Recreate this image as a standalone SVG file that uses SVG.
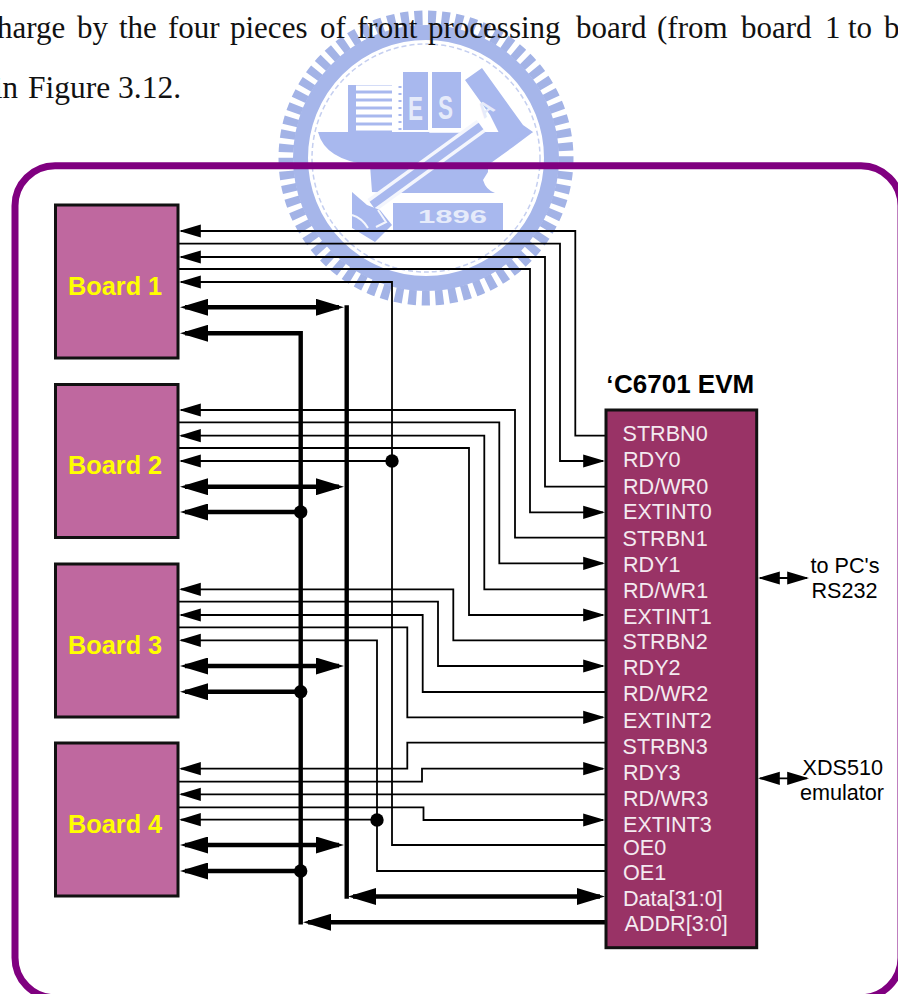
<svg xmlns="http://www.w3.org/2000/svg" width="898" height="994" viewBox="0 0 898 994">
<style>
text{font-family:"Liberation Sans",Arial,sans-serif}
.body{font-family:"Liberation Serif","Times New Roman",serif;font-size:31px;fill:#111}
.box{stroke:#111;stroke-width:3;stroke-linejoin:miter}
.board{fill:#BF689F}
.bl{font-size:25.3px;font-weight:bold;fill:#FFFF00}
.pin{font-size:21.6px;fill:#F4EAF0}
.ext{font-size:21.6px;fill:#000}
.t{fill:none;stroke:#000;stroke-width:1.8}
.k{fill:none;stroke:#000;stroke-width:4.4}
.ts{marker-start:url(#thin)}
.te{marker-end:url(#thin)}
.ks{marker-start:url(#thick)}
.ke{marker-end:url(#thick)}
.seal{fill:#A8B8EE}
.sw{fill:#E6EBFA;font-family:"Liberation Sans",Arial,sans-serif;font-weight:bold}
</style>
<defs>
<marker id="thin" markerUnits="userSpaceOnUse" markerWidth="22" markerHeight="14" viewBox="0 0 20 12" refX="18" refY="6" orient="auto-start-reverse"><path d="M0 0L20 6L0 12Z" fill="#000"/></marker>
<marker id="thick" markerUnits="userSpaceOnUse" markerWidth="28" markerHeight="17" viewBox="0 0 28 17" refX="23" refY="8.5" orient="auto-start-reverse"><path d="M0 0L28 8.5L0 17Z" fill="#000"/></marker>
</defs>
<rect width="898" height="994" fill="#fff"/>
<g id="watermark">
<circle cx="426" cy="158" r="140" fill="none" stroke="#A3B3E6" stroke-width="15" stroke-dasharray="8 5.5"/>
<circle cx="426" cy="158" r="125.5" fill="none" stroke="#A6B6EA" stroke-width="15"/>
<circle cx="426" cy="158" r="114" fill="none" stroke="#C5CFF0" stroke-width="1.5" stroke-dasharray="5 3"/>
<path class="seal" d="M318 132H533L513 147L488 165V172L483 180Q486 190 495 193H403L372 192L370 165Q325 160 318 132Z"/>
<rect class="seal" x="348" y="85" width="44" height="47"/>
<path d="M356 88H392M356 96H392M356 104H392M356 112H392M356 120H392M356 128H392" stroke="#fff" stroke-width="5"/>
<path d="M400 86V130" stroke="#A8B8EE" stroke-width="3" stroke-dasharray="2 5"/>
<rect class="seal" x="403" y="72" width="25" height="58"/>
<rect class="seal" x="432" y="72" width="29" height="56"/>
<path d="M430 70V132H462" fill="none" stroke="#fff" stroke-width="1.5"/>
<path class="seal" d="M465 80L482 68L523 125L533 132L505 145L490 115Z"/>
<path d="M481 126L372 205" stroke="#F4F6FD" stroke-width="15"/>
<path d="M481 126L372 205" stroke="#A8B8EE" stroke-width="8"/>
<path class="seal" d="M352 192L367 205L380 210L392 225L375 242L352 228Z"/>
<path d="M352 215Q362 218 368 228M378 210L386 222L376 227" fill="none" stroke="#F4F6FD" stroke-width="2"/>
<rect class="seal" x="393" y="203" width="110" height="27"/>
<text class="sw" x="418" y="223" font-size="18" textLength="69" lengthAdjust="spacingAndGlyphs">1896</text>
<text class="sw" x="408" y="120" font-size="34" textLength="15" lengthAdjust="spacingAndGlyphs">E</text>
<text class="sw" x="438" y="119" font-size="33" textLength="15" lengthAdjust="spacingAndGlyphs">S</text>
<text class="sw" x="0" y="0" font-size="21" transform="translate(484 119) rotate(-38)">A</text>
</g>
<g id="page-text">
<text class="body" x="-3" y="38">harge</text>
<text class="body" x="77" y="38">by</text>
<text class="body" x="119" y="38">the</text>
<text class="body" x="168" y="38">four</text>
<text class="body" x="230" y="38">pieces</text>
<text class="body" x="320" y="38">of</text>
<text class="body" x="357" y="38">front</text>
<text class="body" x="428" y="38">processing</text>
<text class="body" x="576" y="38">board</text>
<text class="body" x="657" y="38">(from</text>
<text class="body" x="741" y="38">board</text>
<text class="body" x="825" y="38">1</text>
<text class="body" x="848" y="38">to</text>
<text class="body" x="884" y="38">b</text>
<text class="body" x="-6" y="98">in</text>
<text class="body" x="28" y="98" style="font-size:31.5px">Figure 3.12.</text>
</g>
<rect id="frame" x="15" y="165.7" width="886" height="832" rx="40" ry="40" fill="none" stroke="#800080" stroke-width="7"/>
<g id="connectors">
<path class="t ts" d="M181 231H575.3V435.7H606"/>
<path class="t te" d="M178 243.7H560V461H603"/>
<path class="t ts" d="M181 257H545V486.7H606"/>
<path class="t te" d="M178 269H530V512.3H603"/>
<path class="t ts" d="M181 282H392V845H606"/>
<path class="t ts" d="M181 410H515V537.7H606"/>
<path class="t te" d="M178 422.3H499.3V563.3H603"/>
<path class="t ts" d="M181 435.7H484.3V589.3H606"/>
<path class="t te" d="M178 448H469V615H603"/>
<path class="t ts" d="M181 461H392"/>
<path class="t ts" d="M181 589.3H453.3V640.3H606"/>
<path class="t te" d="M178 601.7H438V666H603"/>
<path class="t ts" d="M181 615H422.7V692H606"/>
<path class="t te" d="M178 627.3H407.3V717.3H603"/>
<path class="t ts" d="M181 640.3H377V871H606"/>
<path class="t ts" d="M181 768.7H407.3V742.7H606"/>
<path class="t te" d="M178 781.7H422V768.7H603"/>
<path class="t ts" d="M181 794.3H606"/>
<path class="t te" d="M178 807.3H423.5V820H603"/>
<path class="t ts" d="M181 819.7H377"/>
<path class="k" d="M346.7 305.2V898.7"/>
<path class="k ks" d="M185 333.3H300.7V924.5"/>
<path class="k ks ke" d="M185 307.3H339"/>
<path class="k ks ke" d="M185 486.7H339"/>
<path class="k ks ke" d="M185 666H339"/>
<path class="k ks ke" d="M185 845H339"/>
<path class="k ks" d="M185 512H300.7"/>
<path class="k ks" d="M185 691.7H300.7"/>
<path class="k ks" d="M185 871H300.7"/>
<path class="k ks ke" d="M353 896.5H600"/>
<path class="k ke" d="M606 922.3H308"/>
<path class="t ts te" d="M760 578H807"/>
<path class="t ts te" d="M760 778.3H807"/>
<g id="junctions" fill="#000">
<circle cx="392" cy="461" r="6.7"/>
<circle cx="377" cy="820" r="6.7"/>
<circle cx="300.7" cy="512" r="6.7"/>
<circle cx="300.7" cy="691.7" r="6.7"/>
<circle cx="300.7" cy="871" r="6.7"/>
</g>
</g>
<g id="board1"><rect class="box board" x="55.5" y="205" width="122.5" height="153"/><text class="bl" x="68" y="295">Board 1</text></g>
<g id="board2"><rect class="box board" x="55.5" y="384.5" width="122.5" height="153"/><text class="bl" x="68" y="474">Board 2</text></g>
<g id="board3"><rect class="box board" x="55.5" y="564" width="122.5" height="153"/><text class="bl" x="68" y="654">Board 3</text></g>
<g id="board4"><rect class="box board" x="55.5" y="743" width="122.5" height="153"/><text class="bl" x="68" y="833">Board 4</text></g>
<g id="evm">
<rect class="box" x="606" y="410" width="150.7" height="537.7" fill="#993366"/>
<text font-size="26" font-weight="bold" fill="#000"><tspan x="606.5" y="393" font-size="24">‘</tspan><tspan x="614" y="393">C6701 EVM</tspan></text>
<text class="pin" x="622.5" y="441">STRBN0</text>
<text class="pin" x="623" y="467">RDY0</text>
<text class="pin" x="623" y="494">RD/WR0</text>
<text class="pin" x="623" y="519">EXTINT0</text>
<text class="pin" x="622.5" y="546">STRBN1</text>
<text class="pin" x="623" y="572">RDY1</text>
<text class="pin" x="623" y="598">RD/WR1</text>
<text class="pin" x="623" y="623.5">EXTINT1</text>
<text class="pin" x="622.5" y="648.5">STRBN2</text>
<text class="pin" x="623" y="675">RDY2</text>
<text class="pin" x="623" y="701">RD/WR2</text>
<text class="pin" x="623" y="727.5">EXTINT2</text>
<text class="pin" x="622.5" y="753.5">STRBN3</text>
<text class="pin" x="623" y="779.5">RDY3</text>
<text class="pin" x="623" y="805.5">RD/WR3</text>
<text class="pin" x="623" y="831.5">EXTINT3</text>
<text class="pin" x="623" y="855">OE0</text>
<text class="pin" x="623" y="880">OE1</text>
<text class="pin" x="623" y="906">Data[31:0]</text>
<text class="pin" x="624.5" y="931">ADDR[3:0]</text>
</g>
<g id="rs232"><text class="ext" x="810.5" y="573">to PC's</text><text class="ext" x="811.5" y="598">RS232</text></g>
<g id="xds510"><text class="ext" x="802.5" y="775">XDS510</text><text class="ext" x="800" y="800">emulator</text></g>
</svg>
